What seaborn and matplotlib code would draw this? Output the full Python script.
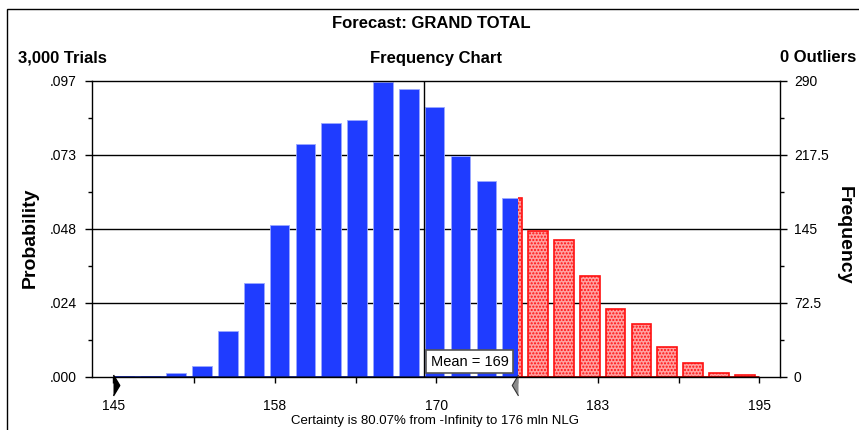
import matplotlib
matplotlib.use('Agg')
import matplotlib.pyplot as plt
from matplotlib.patches import Rectangle
from matplotlib.ticker import FixedLocator
import numpy as np
import pandas as pd
import seaborn as sns

# forecast data
trials = 3000
bin_left = list(range(145, 195, 2))
freq = [1, 1, 4, 11, 45, 92, 149, 228, 249, 252, 289, 282, 265,
        217, 192, 175, 143, 134, 99, 67, 52, 29, 14, 4, 2]
mean_value = 169.07
cert_lower = 145
cert_upper = 176.3
certainty = 80.07
freq_ticks = [0, 72.5, 145, 217.5, 290]
x_ticks = [145, 157.5, 170, 182.5, 195]
x_ticklabels = ['145', '158', '170', '183', '195']

sns.set_theme(style='white')
plt.rcParams['font.family'] = ['Liberation Sans', 'DejaVu Sans']
plt.rcParams['text.color'] = 'black'
plt.rcParams['xtick.color'] = 'black'
plt.rcParams['ytick.color'] = 'black'

# bars sit a little left of the bin centre in the original
df = pd.DataFrame({'center': np.array(bin_left) + 0.87, 'freq': freq})

fig = plt.figure(figsize=(8.59, 4.30), dpi=100)
ax = fig.add_axes([92 / 859, 1 - 377 / 430, (780 - 92) / 859, (377 - 81) / 430])
ax2 = ax.twinx()

x_lo, x_hi = 143.35, 196.6
y_top = freq_ticks[-1]

# grid behind the bars
for v in freq_ticks[1:-1]:
    ax.axhline(v, color='black', lw=1, zorder=0)

n0 = len(ax.patches)
sns.barplot(data=df, x='center', y='freq', native_scale=True, width=0.76,
            color='#1f3cff', saturation=1, edgecolor='#9aa8ff', linewidth=0.6, ax=ax)
blue = ax.patches[n0:]
n1 = len(ax.patches)
sns.barplot(data=df, x='center', y='freq', native_scale=True, width=0.76,
            color='#ffa0a0', saturation=1, edgecolor='#ff1010', linewidth=1.2,
            hatch='.....', ax=ax)
red = ax.patches[n1:]
clip_blue = Rectangle((x_lo, -20), cert_upper - x_lo, 400, transform=ax.transData)
clip_red = Rectangle((cert_upper, -20), x_hi - cert_upper, 400, transform=ax.transData)
for p in blue:
    p.set_clip_path(clip_blue)
    p.set_zorder(2)
for p in red:
    p.set_clip_path(clip_red)
    p.set_zorder(2)

# coloured baseline under the bars
ax.plot([bin_left[0], cert_upper], [0, 0], color='#10208a', lw=2, zorder=3, solid_capstyle='butt')
ax.plot([cert_upper, bin_left[-1] + 2], [0, 0], color='#a00000', lw=2, zorder=3, solid_capstyle='butt')

# mean line and label
ax.axvline(mean_value, color='black', lw=1, zorder=4)
ax.text(mean_value + 0.5, 8, f'Mean = {round(mean_value)}', fontsize=10.5, ha='left', va='bottom',
        zorder=5, bbox=dict(boxstyle='square,pad=0.3', fc='white', ec='#555555', lw=1.2))

ax.set_xlim(x_lo, x_hi)
ax.set_ylim(0, y_top)
ax.set_xlabel('')
ax.set_ylabel('')
ax.xaxis.set_major_locator(FixedLocator(x_ticks))
ax.set_xticklabels(x_ticklabels)
ax.xaxis.set_minor_locator(FixedLocator([(a + b) / 2 for a, b in zip(x_ticks[:-1], x_ticks[1:])]))
ax.tick_params(axis='x', which='both', direction='out', bottom=True, length=4, width=1,
               color='black', labelsize=10, pad=12)
ax.yaxis.set_visible(False)
for s in ax.spines.values():
    s.set_color('black')
    s.set_linewidth(1)
    s.set_zorder(6)

# frequency axis on the right, probability axis on the left
ax2.set_ylim(0, y_top)
ax2.yaxis.tick_right()
ax2.yaxis.set_major_locator(FixedLocator(freq_ticks))
ax2.set_yticklabels([f'{v:g}' for v in freq_ticks])
ax2.yaxis.set_minor_locator(FixedLocator([(a + b) / 2 for a, b in zip(freq_ticks[:-1], freq_ticks[1:])]))
ax2.tick_params(axis='y', which='both', direction='out', right=True, left=False, length=5,
                width=1, color='black', labelsize=10, pad=5)
ax2.tick_params(axis='y', which='minor', length=3)
for s in ax2.spines.values():
    s.set_visible(False)

ax3 = ax.twinx()
ax3.set_ylim(0, y_top / trials)
ax3.yaxis.tick_left()
prob_ticks = [v / trials for v in freq_ticks]
ax3.yaxis.set_major_locator(FixedLocator(prob_ticks))
ax3.set_yticklabels([f'{v + 1e-9:.3f}'.lstrip('0') for v in prob_ticks])
ax3.yaxis.set_minor_locator(FixedLocator([(a + b) / 2 for a, b in zip(prob_ticks[:-1], prob_ticks[1:])]))
ax3.tick_params(axis='y', which='both', direction='out', left=True, right=False, length=5,
                width=1, color='black', labelsize=10, pad=6)
ax3.tick_params(axis='y', which='minor', length=3)
for s in ax3.spines.values():
    s.set_visible(False)

# certainty range markers below the axis
ax.plot([cert_lower], [-0.027], marker=[(0, -1), (0.6, 0), (0, 1)], markersize=15,
        color='black', transform=ax.get_xaxis_transform(), clip_on=False, zorder=6)
ax.plot([cert_upper], [-0.027], marker=[(0, -1), (-0.6, 0), (0, 1)], markersize=15,
        color='#8a8a8a', mec='#333333', mew=0.8, transform=ax.get_xaxis_transform(),
        clip_on=False, zorder=6)

# texts
fig.text(431 / 859, 1 - 24 / 430, 'Forecast: GRAND TOTAL', fontsize=12, fontweight='bold',
         ha='center', va='center')
fig.text(18 / 859, 1 - 58 / 430, f'{trials:,} Trials', fontsize=12, fontweight='bold',
         ha='left', va='center')
fig.text(436 / 859, 1 - 58 / 430, 'Frequency Chart', fontsize=12, fontweight='bold',
         ha='center', va='center')
fig.text(856 / 859, 1 - 58 / 430, '0 Outliers', fontsize=12, fontweight='bold',
         ha='right', va='center')
fig.text(30 / 859, 1 - 238 / 430, 'Probability', fontsize=14, fontweight='bold',
         ha='center', va='center', rotation=90)
fig.text(844 / 859, 1 - 235 / 430, 'Frequency', fontsize=14, fontweight='bold',
         ha='center', va='center', rotation=-90)
fig.text(435 / 859, 1 - 421 / 430,
         f'Certainty is {certainty:.2f}% from -Infinity to {round(cert_upper)} mln NLG',
         fontsize=9.5, ha='center', va='center')

# outer frame
fig.add_artist(Rectangle((6.5 / 859, -0.1), 2, 1 - 9 / 430 + 0.1, transform=fig.transFigure,
                         fill=False, ec='black', lw=1))

fig.savefig('out.png', dpi=100)
